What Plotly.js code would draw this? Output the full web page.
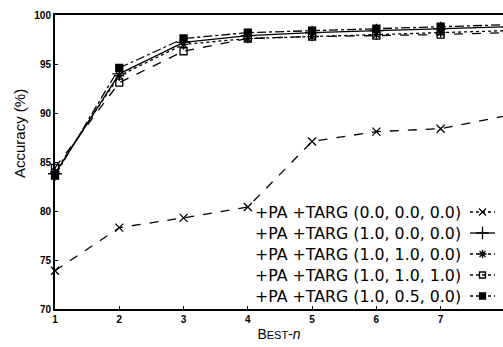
<!DOCTYPE html>
<html><head><meta charset="utf-8">
<script src="https://cdn.plot.ly/plotly-3.0.1.min.js"></script>
<style>html,body{margin:0;padding:0;background:#fff}#c{width:503px;height:347px}</style>
</head><body><div id="c"></div>
<script>
const bestN = [1, 2, 3, 4, 5, 6, 7, 8];
const seriesNames = [
  "+PA +TARG (0.0, 0.0, 0.0)",
  "+PA +TARG (1.0, 0.0, 0.0)",
  "+PA +TARG (1.0, 1.0, 0.0)",
  "+PA +TARG (1.0, 1.0, 1.0)",
  "+PA +TARG (1.0, 0.5, 0.0)"
];
const acc000 = [73.9, 78.3, 79.3, 80.4, 87.1, 88.1, 88.4, 89.7];
const acc100 = [83.8, 94.0, 97.2, 97.9, 98.2, 98.4, 98.6, 98.8];
const acc110 = [84.0, 93.8, 97.0, 97.6, 97.8, 98.0, 98.2, 98.4];
const acc111 = [84.4, 93.1, 96.3, 97.6, 97.8, 97.9, 98.0, 98.2];
const acc105 = [83.6, 94.6, 97.6, 98.2, 98.4, 98.6, 98.8, 99.0];
const yTicks = [70, 75, 80, 85, 90, 95, 100];
const xTicks = [1, 2, 3, 4, 5, 6, 7];

const values = [acc000, acc100, acc110, acc111, acc105];
const styles = [
  {dash: 'dash', symbol: 'x-thin-open', size: 8},
  {dash: 'solid', symbol: 'cross-thin-open', size: 10},
  {dash: 'dot', symbol: 'asterisk-open', size: 8},
  {dash: 'dash', symbol: 'square-open', size: 7},
  {dash: 'dashdot', symbol: 'square', size: 7}
];

const traces = [];
values.forEach((v, i) => {
  const s = styles[i];
  traces.push({
    x: bestN, y: v, type: 'scatter', mode: 'lines+markers', name: seriesNames[i],
    showlegend: false, cliponaxis: false,
    line: {color: '#000', width: 1.3, dash: s.dash},
    marker: {symbol: s.symbol, size: s.size, color: '#000', line: {color: '#000', width: 1.3}}
  });
});

// custom legend: text right-aligned, sample to the right (pixel-like overlay axis)
const L = {textRight: 463, sx0: 470, sx1: 495, y0: 212, dy: 21};
const annotations = [];
seriesNames.forEach((n, i) => {
  const s = styles[i];
  const yy = L.y0 + i * L.dy;
  traces.push({
    x: [L.sx0, (L.sx0 + L.sx1) / 2, L.sx1], y: [yy, yy, yy], xaxis: 'x2', yaxis: 'y2',
    type: 'scatter', mode: 'lines', showlegend: false, hoverinfo: 'skip', cliponaxis: false,
    line: {color: '#000', width: 1.3, dash: s.dash === 'solid' ? 'solid' : 'dot'}
  });
  traces.push({
    x: [(L.sx0 + L.sx1) / 2], y: [yy], xaxis: 'x2', yaxis: 'y2',
    type: 'scatter', mode: 'markers', showlegend: false, hoverinfo: 'skip', cliponaxis: false,
    marker: {symbol: s.symbol, size: s.size - 1, color: '#000', line: {color: '#000', width: 1.3}}
  });
  annotations.push({
    xref: 'x2', yref: 'y2', x: L.textRight, y: yy, text: n, showarrow: false,
    xanchor: 'right', yanchor: 'middle',
    font: {family: 'DejaVu Sans, sans-serif', size: 15.8, color: '#000'}
  });
});
annotations.push({
  xref: 'paper', yref: 'y2', x: 0, xshift: -36, y: 134, text: 'Accuracy (%)', textangle: -90,
  showarrow: false, xanchor: 'center', yanchor: 'middle',
  font: {family: 'Liberation Sans, Arial, sans-serif', size: 15, color: '#000'}
});

const layout = {
  width: 503, height: 347,
  margin: {l: 55, r: 0, t: 15, b: 38},
  paper_bgcolor: '#fff', plot_bgcolor: '#fff',
  font: {family: 'Liberation Sans, Arial, sans-serif', color: '#000'},
  xaxis: {
    range: [1, 7.97], tickvals: xTicks, ticktext: xTicks.map(String),
    showgrid: false, zeroline: false, showline: true, linecolor: '#000', linewidth: 2,
    mirror: true, ticks: 'inside', ticklen: 3, tickcolor: '#000',
    tickfont: {size: 10, color: '#000', weight: 'bold'},
    title: {text: 'B<span style="font-size:11px">EST</span>-<i>n</i>', font: {size: 14}, standoff: 5}
  },
  yaxis: {
    range: [70, 100], tickvals: yTicks, ticktext: yTicks.map(String),
    showgrid: false, zeroline: false, showline: true, linecolor: '#000', linewidth: 2,
    ticks: 'inside', ticklen: 3, tickcolor: '#000',
    tickfont: {size: 10, color: '#000', weight: 'bold'}
  },
  xaxis2: {overlaying: 'x', anchor: 'y2', range: [55, 503], visible: false, fixedrange: true},
  yaxis2: {overlaying: 'y', anchor: 'x2', range: [309, 15], visible: false, fixedrange: true},
  annotations: annotations,
  showlegend: false
};

Plotly.newPlot('c', traces, layout, {displayModeBar: false, staticPlot: true});
</script></body></html>
